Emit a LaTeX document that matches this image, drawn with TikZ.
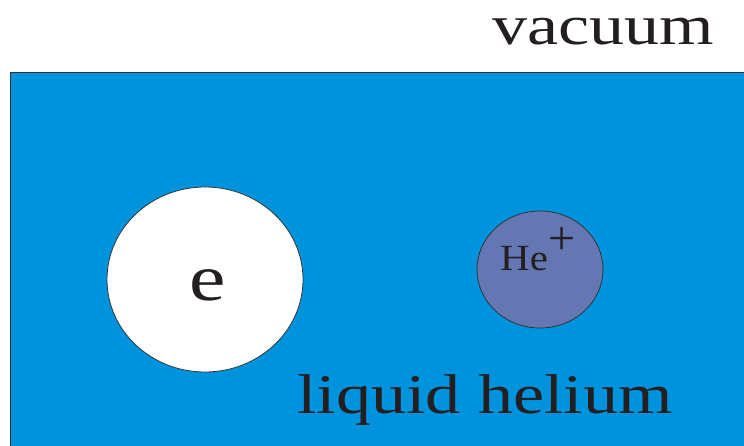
\documentclass[tikz,border=0pt]{standalone}
\usepackage{fontspec}
\usepackage{graphicx}
\newfontfamily\timesface{Liberation Serif}
\usetikzlibrary{shapes.geometric,positioning}

\definecolor{heliumblue}{HTML}{0093DD}
\definecolor{ionblue}{HTML}{6477B2}
\definecolor{inkdark}{HTML}{231F20}
\definecolor{edgegray}{HTML}{333333}

\newcommand{\squash}[1]{\scalebox{1}[0.8]{#1}}

\begin{document}
\begin{tikzpicture}[x=1pt, y=-1pt,
    bubble/.style={ellipse, draw=edgegray, line width=0.8pt, inner sep=0pt},
    biglabel/.style={text=inkdark, inner sep=0pt, anchor=base west, font=\timesface\fontsize{70}{70}\selectfont}
]

\useasboundingbox (0,0) rectangle (744,446);

% liquid helium bath
\fill[heliumblue] (10,72) rectangle (744,446);
\draw[edgegray, line width=0.9pt] (744,72) -- (10,72) -- (10,446);

\node[biglabel] (vacuum) at (492,45) {\squash{vacuum}};
\node[biglabel] (liquid) at (297,413) {\squash{liquid helium}};

% electron bubble and helium ion
\node[bubble, fill=white, minimum width=196pt, minimum height=185pt] (electron) at (205,279.5) {};
\node[bubble, fill=ionblue, minimum width=126pt, minimum height=117pt] (ion) at (540,269.5) {};

\node[text=inkdark, inner sep=0pt, anchor=base, font=\timesface\fontsize{82}{82}\selectfont] (elabel) at (208,301) {\squash{e}};
\node[text=inkdark, inner sep=0pt, anchor=base west, font=\timesface\fontsize{41}{41}\selectfont] (ionlabel) at (500,271)
    {\scalebox{1}[0.9]{He}{\fontsize{48}{48}\selectfont\raisebox{16.5pt}{+}}};

\end{tikzpicture}
\end{document}
